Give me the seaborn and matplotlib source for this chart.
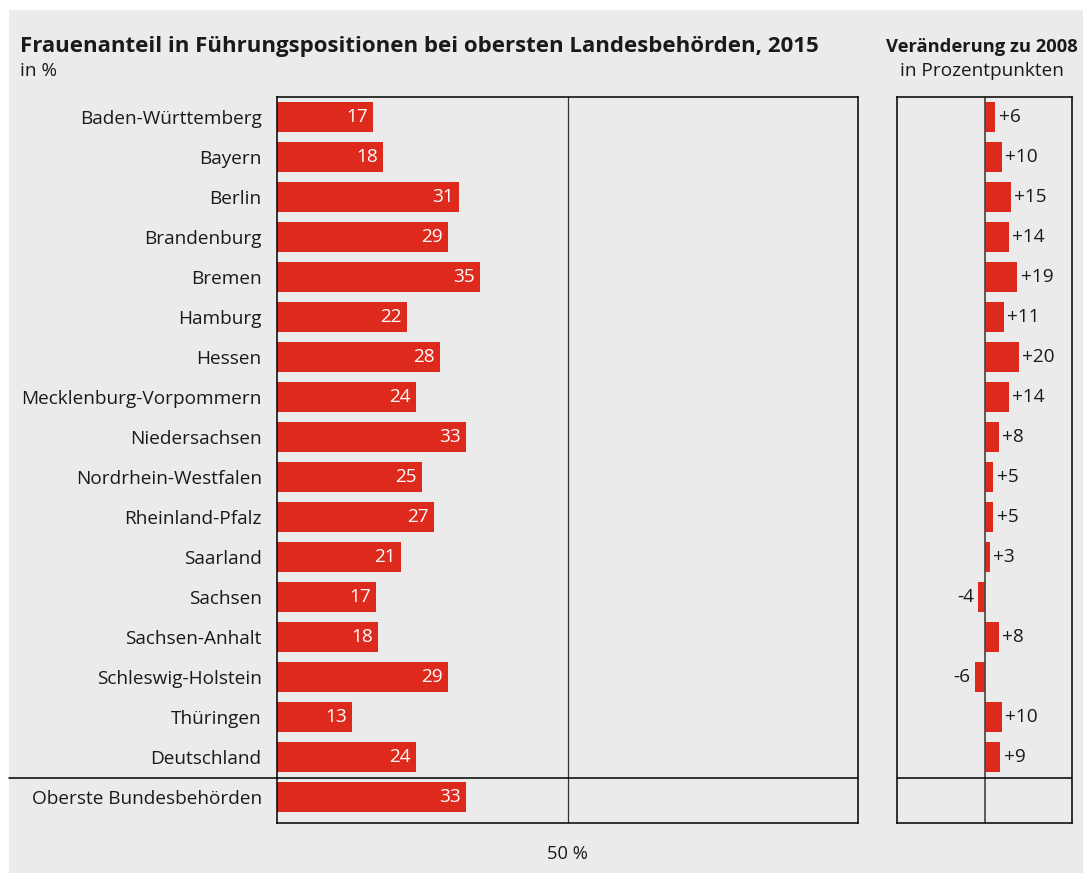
import pandas as pd
import matplotlib.pyplot as plt
import seaborn as sns
from matplotlib.patches import Rectangle

laender = ['Baden-Württemberg', 'Bayern', 'Berlin', 'Brandenburg', 'Bremen', 'Hamburg',
           'Hessen', 'Mecklenburg-Vorpommern', 'Niedersachsen', 'Nordrhein-Westfalen',
           'Rheinland-Pfalz', 'Saarland', 'Sachsen', 'Sachsen-Anhalt', 'Schleswig-Holstein',
           'Thüringen', 'Deutschland', 'Oberste Bundesbehörden']
anteil = [16.6, 18.3, 31.4, 29.5, 35.0, 22.4, 28.1, 24.0, 32.6, 25.0,
          27.1, 21.4, 17.1, 17.4, 29.5, 12.9, 24.0, 32.6]
anteil_labels = [17, 18, 31, 29, 35, 22, 28, 24, 33, 25, 27, 21, 17, 18, 29, 13, 24, 33]
veraenderung = [6, 10, 15, 14, 19, 11, 20, 14, 8, 5, 5, 3, -4, 8, -6, 10, 9]

red = '#dd2a1d'
bg = '#ebebeb'
fs = 13.7

sns.set_style('white')
plt.rcParams['font.family'] = ['Open Sans', 'DejaVu Sans']

df = pd.DataFrame({'land': laender, 'anteil': anteil})
df2 = pd.DataFrame({'land': laender[:-1], 'diff': veraenderung})

fig = plt.figure(figsize=(10.83, 8.73), dpi=100)
fig.patches.append(Rectangle((9 / 1083, 0), 1, 863 / 873, transform=fig.transFigure,
                             facecolor=bg, edgecolor='none', zorder=-10))

W, H = 1083, 873
ax = fig.add_axes([277 / W, 1 - 823 / H, (858 - 277) / W, (823 - 97) / H])
ax2 = fig.add_axes([897 / W, 1 - 823 / H, (1072 - 897) / W, (823 - 97) / H])

sns.barplot(data=df, x='anteil', y='land', color=red, width=0.75, orient='h',
            saturation=1, linewidth=0, ax=ax)
ax.set_xlim(0, 100)
ax.set_ylim(17.65, -0.5)
ax.set_facecolor(bg)
ax.axvline(50, color='#333333', lw=0.9)
ax.axhline(16.525, color='black', lw=1.1, xmin=-0.462, clip_on=False)
ax.set_xticks([])
ax.set_xlabel('')
ax.set_ylabel('')
ax.tick_params(axis='y', length=0, pad=11, labelsize=fs, labelcolor='#1a1a1a')
for s in ax.spines.values():
    s.set_color('black')
    s.set_linewidth(1.1)
for i, (v, lab) in enumerate(zip(anteil, anteil_labels)):
    ax.text(v - 0.9, i, str(lab), ha='right', va='center', color='white', fontsize=fs)
ax.text(50, -0.03, '50 %', transform=ax.get_xaxis_transform(), ha='center', va='top',
        fontsize=fs - 0.5, color='#1a1a1a')

sns.barplot(data=df2, x='diff', y='land', color=red, width=0.75, orient='h',
            saturation=1, linewidth=0, ax=ax2)
ax2.set_xlim(-51.5, 51)
ax2.set_ylim(17.65, -0.5)
ax2.set_facecolor(bg)
ax2.axvline(0, color='#444444', lw=1.2)
ax2.axhline(16.525, color='black', lw=1.1)
ax2.set_xticks([])
ax2.set_yticks([])
ax2.set_xlabel('')
ax2.set_ylabel('')
for s in ax2.spines.values():
    s.set_color('black')
    s.set_linewidth(1.1)
for i, d in enumerate(veraenderung):
    if d >= 0:
        ax2.text(d + 2.0, i, f'+{d}', ha='left', va='center', fontsize=fs, color='#1a1a1a')
    else:
        ax2.text(d - 2.5, i, f'-{abs(d)}', ha='right', va='center', fontsize=fs, color='#1a1a1a')

fig.text(20 / W, 1 - 52 / H, 'Frauenanteil in Führungspositionen bei obersten Landesbehörden, 2015',
         fontsize=16, fontweight='bold', ha='left', va='baseline', color='#1a1a1a')
fig.text(20 / W, 1 - 76 / H, 'in %', fontsize=fs, ha='left', va='baseline', color='#1a1a1a')
fig.text(982 / W, 1 - 52 / H, 'Veränderung zu 2008', fontsize=13.2, fontweight='bold',
         ha='center', va='baseline', color='#1a1a1a')
fig.text(982 / W, 1 - 76 / H, 'in Prozentpunkten', fontsize=fs, ha='center', va='baseline',
         color='#1a1a1a')

fig.savefig('out.png', dpi=100)
